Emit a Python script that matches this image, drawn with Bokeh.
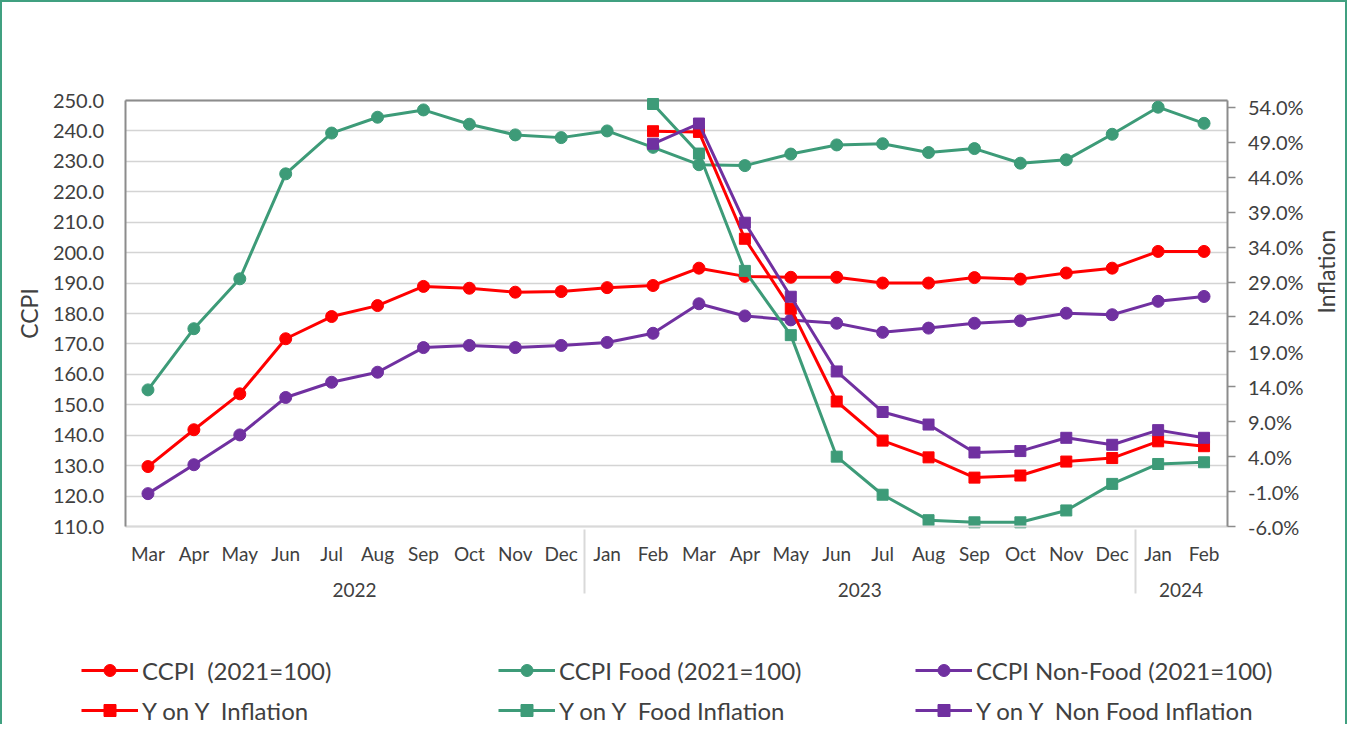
import math
from bokeh.plotting import figure
from bokeh.models import (ColumnDataSource, FactorRange, Range1d, LinearAxis, FixedTicker, Grid,
                          NumeralTickFormatter, PrintfTickFormatter, Legend, LegendItem)
from bokeh.embed import file_html
from bokeh.resources import INLINE

nan = float("nan")

years = ["2022"] * 10 + ["2023"] * 12 + ["2024"] * 2
months = ["Mar", "Apr", "May", "Jun", "Jul", "Aug", "Sep", "Oct", "Nov", "Dec",
          "Jan", "Feb", "Mar", "Apr", "May", "Jun", "Jul", "Aug", "Sep", "Oct", "Nov", "Dec",
          "Jan", "Feb"]

ccpi = [129.7, 141.8, 153.6, 171.7, 179.0, 182.6, 188.9, 188.3, 187.0, 187.2, 188.5, 189.2,
        194.9, 192.2, 191.9, 191.9, 190.0, 190.0, 191.8, 191.3, 193.3, 194.9, 200.4, 200.4]
ccpi_food = [154.9, 175.0, 191.4, 225.9, 239.3, 244.5, 246.9, 242.2, 238.7, 237.8, 240.0, 234.6,
             228.9, 228.6, 232.4, 235.4, 235.8, 232.9, 234.2, 229.4, 230.5, 238.9, 247.8, 242.5]
ccpi_nonfood = [120.8, 130.3, 140.1, 152.4, 157.4, 160.7, 168.8, 169.5, 168.8, 169.5, 170.5, 173.5,
                183.2, 179.2, 177.9, 176.8, 173.8, 175.2, 176.8, 177.6, 180.1, 179.6, 184.0, 185.6]

yoy_infl = [nan] * 11 + [50.6, 50.5, 35.2, 25.2, 11.9, 6.3, 3.9, 1.0, 1.3, 3.3, 3.8, 6.2, 5.5]
yoy_food_infl = [nan] * 11 + [54.5, 47.4, 30.6, 21.4, 4.0, -1.45, -5.1, -5.4, -5.4, -3.7, 0.1, 2.95, 3.2]
yoy_nonfood_infl = [nan] * 11 + [48.8, 51.7, 37.5, 26.9, 16.2, 10.4, 8.6, 4.6, 4.8, 6.7, 5.7, 7.8, 6.7]

left_ticks = [110, 120, 130, 140, 150, 160, 170, 180, 190, 200, 210, 220, 230, 240, 250]
right_ticks = [-6, -1, 4, 9, 14, 19, 24, 29, 34, 39, 44, 49, 54]
left_bounds = (110, 250)
right_bounds = (-6, 55)

series_labels = ["CCPI  (2021=100)", "CCPI Food (2021=100)", "CCPI Non-Food (2021=100)",
                 "Y on Y  Inflation", "Y on Y  Food Inflation", "Y on Y  Non Food Inflation"]

FONT = "Lato"
TXT = "#404040"
RED = "#ff0000"
GREEN = "#3d9b78"
PURPLE = "#7030a0"
FRAME = "#8c8c8c"

# ---- layout (pixels of the canvas) ----
W, H = 1347, 724
PLOT_L, PLOT_R = 123, 1225      # plotting area inside the canvas
PLOT_T, PLOT_B = 98, 524
n = len(months)
ux = (PLOT_R - PLOT_L) / n
pad_side = (PLOT_L + (W - PLOT_R)) / ux / 2      # FactorRange adds this on each side
ly = (left_bounds[1] - left_bounds[0]) / (PLOT_B - PLOT_T)
ry = (right_bounds[1] - right_bounds[0]) / (PLOT_B - PLOT_T)
y_range = Range1d(left_bounds[0] - (H - PLOT_B) * ly, left_bounds[1] + PLOT_T * ly)
infl_range = Range1d(right_bounds[0] - (H - PLOT_B) * ry, right_bounds[1] + PLOT_T * ry)

factors = list(zip(years, months))
src = ColumnDataSource(dict(x=factors, ccpi=ccpi, food=ccpi_food, nonfood=ccpi_nonfood,
                            yoy=yoy_infl, yoyf=yoy_food_infl, yoynf=yoy_nonfood_infl))

p = figure(width=W, height=H,
           x_range=FactorRange(*factors, factor_padding=0, group_padding=0,
                               range_padding=pad_side, range_padding_units="absolute"),
           y_range=y_range, output_backend="svg", toolbar_location=None, min_border=0)
p.styles = {"border-top": "2px solid #40a080", "border-left": "2px solid #40a080",
            "border-right": "2px solid #40a080"}
p.extra_y_ranges = {"infl": infl_range}
p.outline_line_color = None
p.xgrid.grid_line_color = None

has_cb = "cross_bounds" in Grid.properties()
if has_cb:
    p.ygrid.ticker = FixedTicker(ticks=left_ticks)
    p.ygrid.grid_line_color = "#d4d4d4"
    p.ygrid.grid_line_width = 1.5
    p.ygrid.cross_bounds = (0, n)
    p.add_layout(Grid(dimension=1, ticker=FixedTicker(ticks=[left_bounds[1]]),
                      grid_line_color=FRAME, grid_line_width=2, cross_bounds=(0, n)))
else:
    p.ygrid.grid_line_color = None
    p.segment(x0=[0] * len(left_ticks), x1=[n] * len(left_ticks), y0=left_ticks, y1=left_ticks,
              line_color="#d4d4d4", line_width=1.5)
    p.segment(x0=[0], x1=[n], y0=[left_bounds[1]], y1=[left_bounds[1]],
              line_color=FRAME, line_width=2)

# left axis
yax = p.yaxis[0]
yax.fixed_location = 0
yax.bounds = left_bounds
yax.ticker = FixedTicker(ticks=left_ticks)
yax.formatter = NumeralTickFormatter(format="0.0")
yax.axis_label = "CCPI"
yax.axis_line_color = FRAME
yax.axis_line_width = 2
yax.major_tick_line_color = None
yax.minor_tick_line_color = None
yax.major_tick_out = 0
yax.major_label_standoff = 21
yax.axis_label_standoff = 7
yax.major_label_text_font = FONT
yax.major_label_text_font_size = "20px"
yax.major_label_text_color = TXT
yax.axis_label_text_font = FONT
yax.axis_label_text_font_size = "23px"
yax.axis_label_text_font_style = "normal"
yax.axis_label_text_color = TXT

# right axis
rax = LinearAxis(y_range_name="infl", ticker=FixedTicker(ticks=right_ticks),
                 formatter=PrintfTickFormatter(format="%.1f%%"), axis_label="Inflation",
                 fixed_location=n, bounds=right_bounds)
rax.axis_line_color = FRAME
rax.axis_line_width = 2
rax.major_tick_line_color = FRAME
rax.major_tick_line_width = 1.5
rax.major_tick_out = 8
rax.major_tick_in = 0
rax.minor_tick_line_color = None
rax.major_label_standoff = 13
rax.axis_label_standoff = 19
rax.major_label_text_font = FONT
rax.major_label_text_font_size = "20px"
rax.major_label_text_color = TXT
rax.axis_label_text_font = FONT
rax.axis_label_text_font_size = "23px"
rax.axis_label_text_font_style = "normal"
rax.axis_label_text_color = TXT
if "axis_label_orientation" in rax.properties():
    rax.axis_label_orientation = math.pi / 2
p.add_layout(rax, "right")

# x axis (months grouped by year), sitting on the bottom of the plotting area
xax = p.xaxis[0]
xax.fixed_location = left_bounds[0]
xax.bounds = (0, n)
xax.axis_line_color = "#d9d9d9"
xax.axis_line_width = 2
xax.major_tick_line_color = None
xax.minor_tick_line_color = None
xax.major_tick_out = 0
xax.major_label_standoff = 15
xax.major_label_text_font = FONT
xax.major_label_text_font_size = "19px"
xax.major_label_text_color = TXT
xax.major_label_orientation = "horizontal"
xax.group_text_font = FONT
xax.group_text_font_size = "19px"
xax.group_text_font_style = "normal"
xax.group_text_color = TXT
xax.separator_line_color = "#d9d9d9"
xax.separator_line_width = 2

styles = [("ccpi", RED, "circle", 12, "default"),
          ("food", GREEN, "circle", 12, "default"),
          ("nonfood", PURPLE, "circle", 12, "default"),
          ("yoy", RED, "square", 11, "infl"),
          ("yoyf", GREEN, "square", 11, "infl"),
          ("yoynf", PURPLE, "square", 11, "infl")]
items = []
for (col, color, marker, size, yname), lab in zip(styles, series_labels):
    l = p.line("x", col, source=src, line_color=color, line_width=3, y_range_name=yname)
    s = p.scatter("x", col, source=src, marker=marker, size=size, fill_color=color,
                  line_color=color, y_range_name=yname)
    items.append(LegendItem(label=lab, renderers=[l, s]))

legend = Legend(items=items, ncols=3, orientation="horizontal", location=(79, 1),
                glyph_width=57, glyph_height=30, label_standoff=4, label_width=346,
                label_height=30, spacing=10, padding=0, margin=0,
                label_text_font=FONT, label_text_font_size="24px", label_text_color=TXT,
                border_line_color=None, background_fill_alpha=0)
p.add_layout(legend)

open("out.html", "w").write(file_html(p, INLINE))
